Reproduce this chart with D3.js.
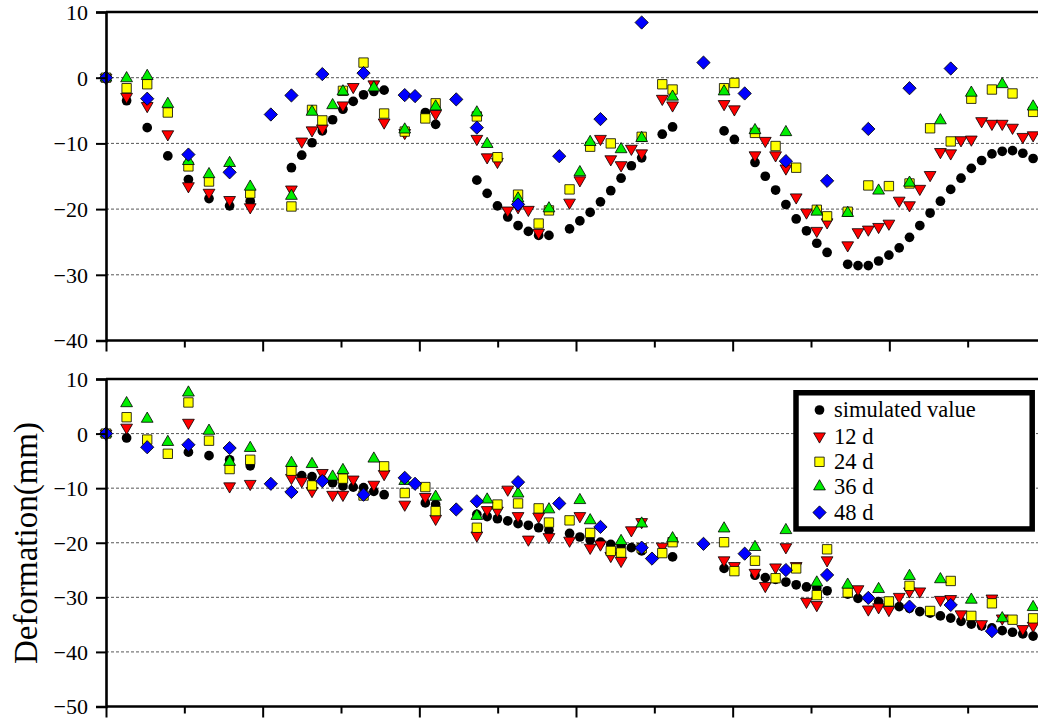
<!DOCTYPE html>
<html>
<head>
<meta charset="utf-8">
<script src="https://cdn.jsdelivr.net/npm/d3@7"></script>
<style>
  html, body { margin: 0; padding: 0; background: #fff; }
  svg { display: block; }
  text { font-family: "Liberation Serif", "Times New Roman", serif; fill: #000; }
</style>
</head>
<body>
<svg id="chart" width="1038" height="722"></svg>
<script>
// Acquisition day offsets and deformation (mm) per series: [day, value]
// Upper panel
const topSimulated = [[0,0],[12,-3.5],[24,-7.6],[36,-11.9],[48,-15.5],[60,-18.4],[72,-19.5],[84,-18.8],
  [108,-13.7],[114,-11.8],[120,-9.9],[126,-8.1],[132,-6.4],[138,-4.8],[144,-3.6],[150,-2.6],[156,-2.1],[162,-1.9],
  [186,-5.3],[192,-7.1],[216,-15.6],[222,-17.6],[228,-19.5],[234,-21.2],[240,-22.5],[246,-23.4],[252,-24.0],[258,-24.0],
  [270,-23.0],[276,-21.8],[282,-20.5],[288,-18.9],[294,-17.2],[300,-15.3],[306,-13.4],[312,-12.2],[324,-8.6],[330,-7.5],
  [360,-8.1],[366,-9.4],[378,-12.9],[384,-15.0],[390,-17.1],[396,-19.3],[402,-21.5],[408,-23.3],[414,-25.2],[420,-26.6],
  [432,-28.4],[438,-28.6],[444,-28.6],[450,-27.9],[456,-27.0],[462,-25.9],[468,-24.3],[474,-22.5],[480,-20.6],[486,-18.8],
  [492,-17.0],[498,-15.3],[504,-13.8],[510,-12.6],[516,-11.6],[522,-11.2],[528,-11.1],[534,-11.5],[540,-12.3]];
const top12d = [[0,0],[12,-2.9],[24,-4.3],[36,-8.6],[48,-16.5],[60,-17.5],[72,-18.6],[84,-19.7],[108,-17.0],[114,-9.7],
  [120,-8.0],[126,-7.7],[138,-4.2],[144,-1.4],[156,-1.0],[162,-6.8],[174,-8.4],[192,-5.5],[216,-9.3],[222,-12.1],[228,-12.8],
  [234,-20.2],[240,-19.7],[246,-20.1],[252,-23.6],[270,-19.0],[276,-15.6],[288,-9.3],[294,-12.4],[300,-13.3],[306,-10.8],
  [312,-11.5],[324,-3.2],[330,-4.2],[360,-4.0],[366,-4.8],[378,-11.8],[384,-9.6],[390,-11.8],[396,-13.8],[402,-18.2],
  [408,-20.5],[414,-23.3],[420,-22.0],[432,-25.5],[438,-23.5],[444,-23.1],[450,-22.7],[456,-22.2],[462,-18.7],[468,-19.4],
  [474,-16.9],[480,-14.8],[486,-11.3],[492,-11.5],[498,-9.5],[504,-9.4],[510,-6.6],[516,-7.0],[522,-7.0],[528,-7.6],
  [534,-9.0],[540,-8.75]];
const top24d = [[0,0],[12,-1.6],[24,-1.0],[36,-5.3],[48,-13.5],[60,-15.8],[84,-17.6],[108,-19.6],[120,-4.9],[126,-6.5],
  [138,-2.0],[150,2.3],[162,-5.45],[174,-8.2],[186,-6.2],[192,-3.9],[216,-5.9],[228,-12.1],[240,-17.8],[252,-22.2],
  [258,-20.2],[270,-17.0],[282,-10.5],[294,-10.0],[312,-9.0],[324,-1.0],[330,-1.8],[360,-1.6],[366,-0.8],[378,-8.4],
  [390,-10.4],[402,-13.7],[414,-20.1],[420,-21.1],[432,-20.4],[444,-16.4],[456,-16.5],[468,-16.1],[480,-7.7],[492,-9.7],
  [504,-3.2],[516,-1.8],[528,-2.4],[540,-5.2]];
const top36d = [[0,0],[12,-0.1],[24,0.25],[36,-4.0],[48,-12.7],[60,-14.7],[72,-13.0],[84,-16.6],[108,-18.0],[120,-5.2],
  [132,-4.2],[138,-2.1],[156,-1.5],[174,-7.9],[192,-4.4],[216,-5.3],[222,-10.1],[240,-18.4],[258,-19.9],[276,-14.4],
  [282,-9.8],[300,-10.9],[312,-9.2],[330,-2.9],[360,-2.1],[378,-8.0],[396,-8.3],[414,-20.4],[432,-20.6],[450,-17.2],
  [468,-16.0],[486,-6.5],[504,-2.3],[522,-1.0],[540,-4.4]];
const top48d = [[0,0],[24,-3.2],[48,-11.7],[72,-14.4],[96,-5.6],[108,-2.7],[126,0.55],[150,0.7],[174,-2.65],[180,-2.8],
  [204,-3.3],[216,-7.6],[240,-19.3],[264,-11.95],[288,-6.3],[312,8.4],[348,2.3],[372,-2.4],[396,-12.7],[420,-15.7],
  [444,-7.8],[468,-1.6],[492,1.4]];

// Lower panel
const bottomSimulated = [[0,0],[12,-0.8],[48,-3.4],[60,-4.05],[72,-4.8],[84,-5.9],[114,-7.7],[120,-7.9],[126,-8.5],
  [132,-9.0],[138,-9.6],[144,-9.8],[150,-9.9],[156,-10.6],[162,-11.2],[186,-12.7],[192,-13.0],[216,-14.8],[222,-15.2],
  [228,-15.6],[234,-16.0],[240,-16.5],[246,-16.8],[252,-17.25],[258,-17.7],[270,-18.3],[276,-18.95],[282,-19.5],[288,-19.9],
  [294,-20.3],[300,-20.6],[306,-20.9],[312,-21.5],[330,-22.6],[360,-24.7],[378,-25.95],[384,-26.4],[390,-26.7],[396,-27.2],
  [402,-27.7],[408,-28.1],[414,-28.3],[420,-28.8],[432,-29.4],[438,-30.2],[444,-30.1],[450,-30.8],[456,-31.2],[462,-31.7],
  [468,-32.0],[474,-32.6],[480,-32.9],[486,-33.4],[492,-33.8],[498,-34.4],[504,-34.9],[510,-35.2],[516,-35.6],[522,-36.1],
  [528,-36.4],[534,-36.7],[540,-37.1]];
const bottom12d = [[0,0],[12,1.1],[48,2.0],[72,-9.65],[84,-9.2],[108,-8.1],[114,-8.7],[120,-10.5],[126,-7.2],[132,-11.2],
  [138,-11.2],[144,-8.4],[156,-9.35],[162,-7.4],[174,-13.0],[186,-11.6],[192,-15.6],[216,-18.65],[222,-14.0],[228,-14.1],
  [234,-10.25],[240,-15.1],[246,-19.4],[252,-15.2],[258,-18.95],[270,-19.6],[276,-15.1],[282,-20.9],[288,-20.3],[294,-22.4],
  [300,-23.3],[306,-17.7],[312,-16.2],[324,-20.7],[360,-23.2],[366,-24.25],[378,-25.5],[384,-27.9],[390,-24.5],[396,-20.8],
  [402,-24.25],[408,-30.8],[414,-31.4],[420,-23.2],[438,-28.5],[444,-32.2],[450,-31.8],[456,-32.3],[462,-29.9],[468,-28.9],
  [474,-28.9],[486,-30.45],[492,-30.3],[498,-33.1],[510,-34.9],[516,-30.2],[522,-33.85],[534,-35.8],[540,-35.2]];
const bottom24d = [[0,0],[12,3.0],[24,-1.1],[36,-3.7],[48,5.7],[60,-1.3],[72,-6.5],[84,-4.8],[108,-6.8],[120,-9.5],
  [138,-8.25],[150,-11.35],[162,-6.0],[174,-10.9],[186,-9.8],[192,-14.2],[216,-17.25],[228,-13.0],[240,-12.8],[252,-13.7],
  [258,-16.3],[270,-15.9],[282,-18.2],[294,-21.5],[300,-21.8],[312,-21.0],[324,-21.9],[330,-19.9],[360,-19.9],[366,-25.2],
  [378,-23.3],[390,-26.5],[402,-24.7],[414,-29.6],[420,-21.2],[432,-29.1],[456,-30.75],[468,-27.9],[480,-32.5],[492,-27.0],
  [504,-33.4],[516,-31.1],[528,-34.1],[540,-33.85]];
const bottom36d = [[0,0],[12,5.55],[24,2.7],[36,-1.55],[48,7.5],[60,0.5],[72,-5.2],[84,-2.65],[108,-5.4],[120,-5.6],
  [132,-7.9],[138,-6.7],[156,-4.6],[174,-8.7],[192,-11.6],[216,-15.1],[222,-12.1],[240,-11.0],[258,-13.9],[276,-12.2],
  [282,-15.9],[300,-19.7],[312,-16.5],[330,-19.2],[360,-17.4],[378,-20.8],[396,-17.7],[414,-27.3],[432,-27.7],[450,-28.5],
  [468,-26.1],[486,-26.7],[504,-30.45],[522,-33.85],[540,-31.8]];
const bottom48d = [[0,0],[24,-2.5],[48,-2.05],[72,-2.65],[96,-9.2],[108,-10.7],[126,-8.7],[150,-11.2],[174,-8.1],[180,-9.2],
  [204,-13.9],[216,-12.4],[240,-8.9],[264,-12.8],[288,-17.1],[312,-20.9],[318,-22.9],[348,-20.2],[372,-22.0],[396,-25.0],
  [420,-25.9],[444,-30.1],[468,-31.7],[492,-31.4],[516,-36.2]];

const seriesNames = ["simulated value", "12 d", "24 d", "36 d", "48 d"];
const topTicks = [10, 0, -10, -20, -30, -40];
const bottomTicks = [10, 0, -10, -20, -30, -40, -50];
const yTitle = "Deformation(mm)";

const serif = '"Liberation Serif", "Times New Roman", serif';

// Marker styles per series
const styles = [
  { shape: "circle",  fill: "#000000", size: 74 },
  { shape: "down",    fill: "#ff0000", size: 60 },
  { shape: "square",  fill: "#ffff00", size: 88 },
  { shape: "up",      fill: "#00ee00", size: 60 },
  { shape: "diamond", fill: "#0000ff", size: 88 }
];

const svg = d3.select("#chart");
const W = 1038, H = 722;
svg.append("rect").attr("width", W).attr("height", H).attr("fill", "#fff");

// Time axis: days from first acquisition, ticks every eighth of a year
const dayMax = 547.5;
const x = d3.scaleLinear().domain([0, dayMax]).range([106, 1046]);
const tickStep = 365 / 8;
const xTicks = d3.range(0, dayMax + 0.1, tickStep);

function symbolPath(st) {
  const gen = d3.symbol().size(st.size);
  if (st.shape === "circle") return gen.type(d3.symbolCircle)();
  if (st.shape === "square") return gen.type(d3.symbolSquare)();
  if (st.shape === "diamond") return gen.type(d3.symbolSquare)();
  return gen.type(d3.symbolTriangle)();
}
function symbolRotate(st) {
  if (st.shape === "down") return 180;
  if (st.shape === "diamond") return 45;
  return 0;
}

function drawPanel(opts) {
  const y = d3.scaleLinear().domain(opts.domain).range([opts.bottom, opts.top]);
  const g = svg.append("g");

  // dashed grid lines at inner ticks
  g.selectAll("line.grid")
    .data(opts.ticks.filter(t => t !== opts.domain[0] && t !== opts.domain[1]))
    .enter().append("line")
    .attr("x1", x(0)).attr("x2", W)
    .attr("y1", d => y(d)).attr("y2", d => y(d))
    .attr("stroke", "#444").attr("stroke-width", 0.9)
    .attr("stroke-dasharray", "3,2");

  // markers, drawn series by series
  opts.series.forEach((data, i) => {
    const st = styles[i];
    const path = symbolPath(st);
    const rot = symbolRotate(st);
    g.append("g").selectAll("path")
      .data(data)
      .enter().append("path")
      .attr("d", path)
      .attr("transform", d => `translate(${x(d[0])},${y(d[1])}) rotate(${rot})`)
      .attr("fill", st.fill)
      .attr("stroke", i === 0 ? "none" : "#000")
      .attr("stroke-width", 0.8);
  });

  // top frame line
  g.append("line")
    .attr("x1", x(0)).attr("x2", W)
    .attr("y1", opts.top).attr("y2", opts.top)
    .attr("stroke", "#000").attr("stroke-width", 2.6);

  // y axis
  const yAxis = d3.axisLeft(y).tickValues(opts.ticks).tickSize(10).tickPadding(8)
    .tickFormat(d3.format("d"));
  const ya = g.append("g").attr("transform", `translate(${x(0)},0)`).call(yAxis);
  ya.attr("font-family", null).attr("font-size", null);
  ya.select(".domain").attr("stroke-width", 2.6);
  ya.selectAll(".tick line").attr("stroke-width", 2);
  ya.selectAll(".tick text")
    .style("font-family", serif)
    .style("font-size", "22px")
    .attr("dy", "0.34em");

  // x axis with alternating long / short ticks
  const xAxis = d3.axisBottom(x).tickValues(xTicks).tickSize(0).tickFormat("");
  const xa = g.append("g").attr("transform", `translate(0,${opts.bottom})`).call(xAxis);
  xa.select(".domain").attr("stroke-width", 2.6).attr("d", `M${x(0)},0H${W}`);
  xa.selectAll(".tick line")
    .attr("y2", (d, i) => (i % 2 === 0 ? 11 : 7))
    .attr("stroke-width", 2);
  return y;
}

drawPanel({
  top: 12, bottom: 340.5, domain: [-40, 10], ticks: topTicks,
  series: [topSimulated, top12d, top24d, top36d, top48d]
});
drawPanel({
  top: 379, bottom: 706.5, domain: [-50, 10], ticks: bottomTicks,
  series: [bottomSimulated, bottom12d, bottom24d, bottom36d, bottom48d]
});

// y axis title
svg.append("text")
  .attr("transform", "translate(37,543) rotate(-90)")
  .attr("text-anchor", "middle")
  .style("font-family", serif)
  .style("font-size", "33px")
  .text(yTitle);

// legend
const lg = svg.append("g");
lg.append("rect")
  .attr("x", 796).attr("y", 392.75).attr("width", 236.2).attr("height", 136.2)
  .attr("fill", "#fff").attr("stroke", "#000").attr("stroke-width", 5.5);
const rowY = [410, 436.3, 461.8, 486.5, 512.5];
seriesNames.forEach((name, i) => {
  const st = styles[i];
  lg.append("path")
    .attr("d", symbolPath(st))
    .attr("transform", `translate(819.5,${rowY[i]}) rotate(${symbolRotate(st)})`)
    .attr("fill", st.fill)
    .attr("stroke", i === 0 ? "none" : "#000")
    .attr("stroke-width", 0.8);
  lg.append("text")
    .attr("x", 834).attr("y", rowY[i] + 7.3)
    .style("font-family", serif)
    .style("font-size", "22.5px")
    .text(name);
});
</script>
</body>
</html>
